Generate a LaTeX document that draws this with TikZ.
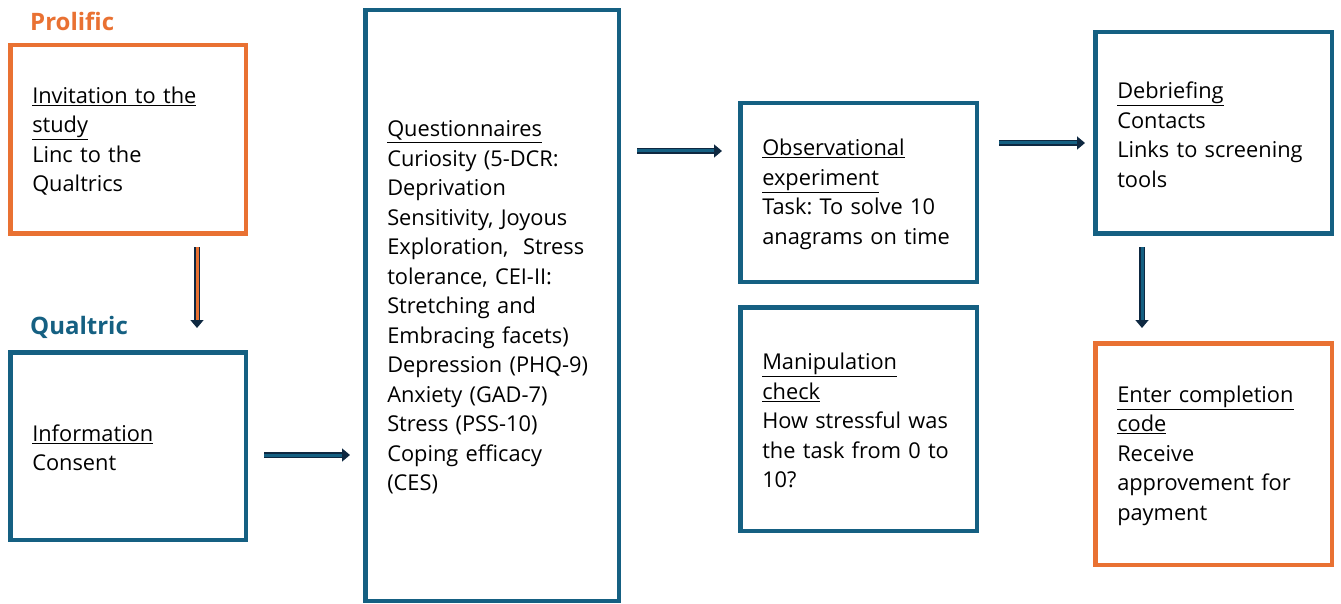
\documentclass[tikz,border=0pt]{standalone}
\usepackage{fontspec}
\setmainfont{Open Sans}
\frenchspacing
\usetikzlibrary{positioning,arrows.meta}
\definecolor{accblue}{HTML}{156082}
\definecolor{accorange}{HTML}{E97132}
\definecolor{arrnavy}{HTML}{0E2841}
\tikzset{
  stepbox/.style={draw=#1, line width=4.5pt, align=left, inner xsep=22pt, inner ysep=0pt,
    font=\fontsize{21.8}{29.5}\selectfont, execute at begin node={\rule{0pt}{20pt}}},
  grouplabel/.style={inner sep=0pt, anchor=west, font=\fontsize{24}{28}\selectfont\bfseries},
  flowarrow/.style={draw=arrnavy, line width=1.6pt, double=#1, double distance=3pt,
    -{Triangle[length=8pt,width=13pt]}},
  flowarrow/.default=accblue
}
\begin{document}
\begin{tikzpicture}[x=1pt, y=-1pt]
\useasboundingbox (0,0) rectangle (1341,604);
\node[stepbox=accorange, text width=191.5pt, minimum height=188.5pt] (prolific) at (128,139.5)
  {\underline{Invitation to the}\\ \underline{study}\\ Linc to the\\ Qualtrics};
\node[stepbox=accblue, text width=191.5pt, minimum height=187.5pt] (info) at (128,446)
  {\underline{Information}\\ Consent};
\node[stepbox=accblue, text width=209.5pt, minimum height=590.5pt] (quest) at (492,305.5)
  {\underline{Questionnaires}\\ Curiosity (5-DCR:\\ Deprivation\\ Sensitivity, Joyous\\
   Exploration,~ Stress\\ tolerance, CEI-II:\\ Stretching and\\ Embracing facets)\\
   Depression (PHQ-9)\\ Anxiety (GAD-7)\\ Stress (PSS-10)\\ Coping efficacy\\ (CES)};
\node[stepbox=accblue, text width=192.5pt, minimum height=178.5pt] (obs) at (858.5,192.5)
  {\underline{Observational}\\ \underline{experiment}\\ Task: To solve 10\\ anagrams on time};
\node[stepbox=accblue, text width=192.5pt, minimum height=223.5pt] (manip) at (858.5,419)
  {\underline{Manipulation}\\ \underline{check}\\ How stressful was\\ the task from 0 to\\ 10?};
\node[stepbox=accblue, text width=192.5pt, minimum height=201.5pt] (debrief) at (1213.5,133)
  {\underline{Debriefing}\\ Contacts\\ Links to screening\\ tools};
\node[stepbox=accorange, text width=192.5pt, minimum height=221.5pt] (complete) at (1213.5,454)
  {\underline{Enter completion}\\ \underline{code}\\ Receive\\ approvement for\\ payment};
%Text
\node[grouplabel, text=accorange] (prolificlabel) at (30,21) {Prolific};
\node[grouplabel, text=accblue] (qualtriclabel) at (30,327) {Qualtric};
%Arrows
\draw[flowarrow=accorange, shorten <=11pt, shorten >=22pt] ([xshift=69pt]prolific.south) -- ([xshift=69pt]prolific.south |- info.north);
\draw[flowarrow, shorten <=16pt, shorten >=13pt] ([yshift=-9pt]info.east) -- ([yshift=-9pt]info.east -| quest.west);
\draw[flowarrow, shorten <=16pt, shorten >=16pt] ([yshift=41.5pt]obs.west -| quest.east) -- ([yshift=41.5pt]obs.west);
\draw[flowarrow, shorten <=20pt, shorten >=8pt] ([yshift=-10pt]debrief.west -| obs.east) -- ([yshift=-10pt]debrief.west);
\draw[flowarrow, shorten <=11pt, shorten >=13pt] ([xshift=-71.5pt]debrief.south) -- ([xshift=-71.5pt]debrief.south |- complete.north);
\end{tikzpicture}
\end{document}
